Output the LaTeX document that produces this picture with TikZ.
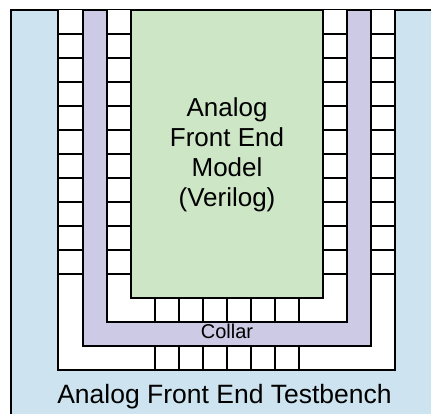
\documentclass[tikz,border=0pt]{standalone}
\usepackage{fontspec}
\setmainfont{Liberation Sans}
\definecolor{tbblue}{RGB}{205,228,240}
\definecolor{collarpurple}{RGB}{204,202,228}
\definecolor{modelgreen}{RGB}{205,230,198}
\tikzset{
  edge/.style={line width=1.8pt, line join=miter},
  rung/.style={line width=1.8pt},
  bigtext/.style={font=\fontsize{26}{30}\selectfont, inner sep=0pt, align=center},
  tbtext/.style={font=\fontsize{26.5}{30}\selectfont, inner sep=0pt},
  smalltext/.style={font=\fontsize{20}{22}\selectfont, inner sep=0pt}
}
\begin{document}
\begin{tikzpicture}[x=1pt,y=-1pt]
\useasboundingbox (0,0) rectangle (431,414);
\clip (0,0) rectangle (431,414);
\fill[white] (0,0) rectangle (431,414);
% testbench (blue)
\filldraw[fill=tbblue, edge] (11,10) rectangle (440,424);
% outer white channel
\fill[white] (58,10) rectangle (395,370);
\draw[edge] (58,10) -- (58,370) -- (395,370) -- (395,10);
% collar (purple U)
\filldraw[fill=collarpurple, edge] (83,10) -- (83,346) -- (371,346) -- (371,10) -- (347,10) -- (347,322) -- (107,322) -- (107,10) -- cycle;
% inner white channel
\fill[white] (107.9,10) rectangle (346.1,321.1);
% model (green)
\filldraw[fill=modelgreen, edge] (131,10) rectangle (323,298);
% side rungs
\foreach \y in {34,58,...,274} {
  \draw[rung] (58,\y) -- (83,\y);
  \draw[rung] (107,\y) -- (131,\y);
  \draw[rung] (323,\y) -- (347,\y);
  \draw[rung] (371,\y) -- (395,\y);
}
% bottom rungs
\foreach \x in {155,179,...,299} {
  \draw[rung] (\x,298) -- (\x,322);
  \draw[rung] (\x,346) -- (\x,370);
}
\node[bigtext] (model) at (227,155) {Analog\\Front End\\Model\\(Verilog)};
\node[smalltext, anchor=base] (collar) at (227,338.7) {Collar};
\node[tbtext, anchor=base] (tb) at (224.5,403) {Analog Front End Testbench};
\end{tikzpicture}
\end{document}
